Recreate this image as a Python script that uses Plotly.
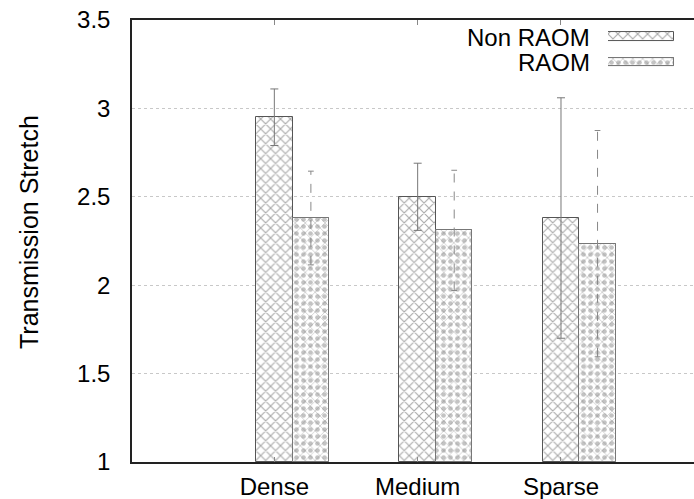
import plotly.graph_objects as go

categories = ["Dense", "Medium", "Sparse"]
series_names = ["Non RAOM", "RAOM"]
non_raom = [2.95, 2.50, 2.38]
non_raom_err = [0.16, 0.19, 0.68]
raom = [2.38, 2.31, 2.235]
raom_err = [0.265, 0.34, 0.64]
y_ticks = [1, 1.5, 2, 2.5, 3, 3.5]
y_ticktext = ["1", "1.5", "2", "2.5", "3", "3.5"]

W, H = 694, 499
ML, MR, MT, MB = 132, 0, 20, 37
BW = 0.255
FONT = "Liberation Sans, Arial, Helvetica, sans-serif"
FS = 24

xi = list(range(len(categories)))
x_raom = [i + BW for i in xi]

PAT_NON = dict(shape="x", size=7, solidity=0.3, fgcolor="#555", bgcolor="white")
PAT_RAOM = dict(shape="x", size=7, solidity=0.2, fgcolor="#888", bgcolor="white")
PAT_DOT = dict(shape=".", size=7, solidity=0.35, fgcolor="#888", fillmode="overlay")

fig = go.Figure()

# Non RAOM bars
fig.add_trace(go.Bar(
    x=xi, y=[v - 1 for v in non_raom], base=1, width=BW,
    marker=dict(color="white", line=dict(color="#555", width=1), pattern=PAT_NON),
    error_y=dict(type="data", array=non_raom_err, color="#777", thickness=1, width=4),
    showlegend=False, hoverinfo="skip",
))
# RAOM bars (crosshatch + dots)
fig.add_trace(go.Bar(
    x=x_raom, y=[v - 1 for v in raom], base=1, width=BW,
    marker=dict(color="white", line=dict(color="#777", width=1), pattern=PAT_RAOM),
    showlegend=False, hoverinfo="skip",
))
fig.add_trace(go.Bar(
    x=x_raom, y=[v - 1 for v in raom], base=1, width=BW,
    marker=dict(color="rgba(0,0,0,0)", line=dict(color="#777", width=1), pattern=PAT_DOT),
    showlegend=False, hoverinfo="skip",
))

# RAOM dashed error bars
ex, ey = [], []
cap = 0.02
for x, v, e in zip(x_raom, raom, raom_err):
    ex += [x, x, None, x - cap, x + cap, None, x - cap, x + cap, None]
    ey += [v - e, v + e, None, v + e, v + e, None, v - e, v - e, None]
fig.add_trace(go.Scatter(
    x=ex, y=ey, mode="lines", line=dict(color="#888", width=1, dash="dash"),
    showlegend=False, hoverinfo="skip",
))

# Legend swatches in an inset axis
fig.add_trace(go.Bar(
    x=[1], y=[0], orientation="h", width=0.34, xaxis="x2", yaxis="y2",
    marker=dict(color="white", line=dict(color="#555", width=1), pattern=PAT_NON),
    showlegend=False, hoverinfo="skip",
))
fig.add_trace(go.Bar(
    x=[1], y=[1], orientation="h", width=0.34, xaxis="x2", yaxis="y2",
    marker=dict(color="white", line=dict(color="#777", width=1), pattern=PAT_RAOM),
    showlegend=False, hoverinfo="skip",
))
fig.add_trace(go.Bar(
    x=[1], y=[1], orientation="h", width=0.34, xaxis="x2", yaxis="y2",
    marker=dict(color="rgba(0,0,0,0)", line=dict(color="#777", width=1), pattern=PAT_DOT),
    showlegend=False, hoverinfo="skip",
))

pw = W - ML - MR
ph = H - MT - MB

def px_x(p):
    return (p - ML) / pw

def px_y(p):
    return (H - MB - p) / ph

annotations = [
    dict(text=series_names[0], x=px_x(592), y=px_y(38), xref="paper", yref="paper",
         xanchor="right", yanchor="middle", showarrow=False, font=dict(size=FS, color="black", family=FONT)),
    dict(text=series_names[1], x=px_x(592), y=px_y(63), xref="paper", yref="paper",
         xanchor="right", yanchor="middle", showarrow=False, font=dict(size=FS, color="black", family=FONT)),
    dict(text="Transmission Stretch", x=px_x(29), y=px_y(232), xref="paper", yref="paper",
         xanchor="center", yanchor="middle", textangle=-90, showarrow=False,
         font=dict(size=25, color="black", family=FONT)),
]

fig.update_layout(
    width=W, height=H,
    margin=dict(l=ML, r=MR, t=MT, b=MB, pad=0, autoexpand=False),
    paper_bgcolor="white", plot_bgcolor="white",
    barmode="overlay", bargap=0,
    font=dict(family=FONT, size=FS, color="black"),
    showlegend=False,
    annotations=annotations,
    xaxis=dict(
        range=[-0.993, 2.928], tickmode="array", tickvals=xi, ticktext=categories,
        showgrid=False, zeroline=False, showline=True, linecolor="#222", linewidth=1.5,
        mirror="ticks", ticks="inside", ticklen=5, tickcolor="#888", tickwidth=1,
        ticklabelstandoff=2, automargin=False,
        tickfont=dict(size=FS, family=FONT, color="black"),
    ),
    yaxis=dict(
        range=[1, 3.5], tickmode="array", tickvals=y_ticks, ticktext=y_ticktext,
        showgrid=True, gridcolor="#c8c8c8", griddash="dot", gridwidth=1,
        zeroline=False, showline=True, linecolor="#222", linewidth=1.5,
        ticks="", ticklabelstandoff=15, automargin=False,
        tickfont=dict(size=FS, family=FONT, color="black"),
    ),
    xaxis2=dict(domain=[px_x(608), px_x(674)], range=[0, 1], anchor="y2",
                visible=False, fixedrange=True),
    yaxis2=dict(domain=[px_y(74.65), px_y(24.05)], range=[1.5, -0.5], anchor="x2",
                visible=False, fixedrange=True),
)

fig.write_html("out.html")
